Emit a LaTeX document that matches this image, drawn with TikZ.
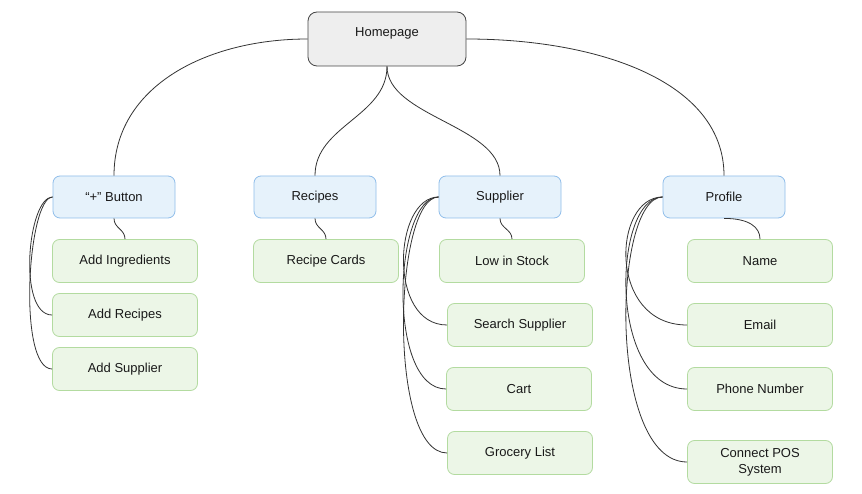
\documentclass[tikz,border=0pt]{standalone}
\usepackage{fontspec}
\setmainfont{Liberation Sans}
\definecolor{homefill}{HTML}{EEEEEE}
\definecolor{homeline}{HTML}{444444}
\definecolor{topicfill}{HTML}{E6F2FB}
\definecolor{topicline}{HTML}{90BEEA}
\definecolor{itemfill}{HTML}{ECF6E7}
\definecolor{itemline}{HTML}{B3DBA0}
\definecolor{linkline}{HTML}{333333}
\tikzset{
  homebox/.style={draw=homeline,fill=homefill,rounded corners=9pt,line width=0.8pt,
    minimum width=158pt,minimum height=54pt,text depth=14pt},
  topicbox/.style={draw=topicline,fill=topicfill,rounded corners=7pt,line width=0.8pt,
    minimum width=122pt,minimum height=42pt},
  itembox/.style={draw=itemline,fill=itemfill,rounded corners=7pt,line width=0.8pt,
    minimum width=145pt,minimum height=43pt,align=center},
  link/.style={draw=linkline,line width=0.8pt}
}
\begin{document}
\begin{tikzpicture}[x=1pt,y=-1pt,font=\fontsize{13}{16}\selectfont,text=black!90]
\useasboundingbox[fill=white] (0,0) rectangle (862,494);
% connectors first, boxes on top
\coordinate (hw) at (308,39);
\coordinate (he) at (466,39);
\coordinate (hs) at (387,66);
% top level
\node[homebox](home) at (387,39){Homepage};
\node[topicbox](plus) at (114,197){``+'' Button};
\node[topicbox](recipes) at (315,197){Recipes};
\node[topicbox](supplier) at (500,197){Supplier};
\node[topicbox](profile) at (724,197){Profile};
% items
\node[itembox](addingr) at (125,261){Add Ingredients};
\node[itembox](addrec) at (125,315){Add Recipes};
\node[itembox](addsupp) at (125,369){Add Supplier};
\node[itembox](cards) at (326,261){Recipe Cards};
\node[itembox](stock) at (512,261){Low in Stock};
\node[itembox](search) at (520,325){Search Supplier};
\node[itembox](cart) at (519,389){Cart};
\node[itembox](grocery) at (520,453){Grocery List};
\node[itembox](name) at (760,261){Name};
\node[itembox](email) at (760,325){Email};
\node[itembox](phone) at (760,389){Phone Number};
\node[itembox](pos) at (760,462){Connect POS\\System};
% homepage links
\path[link](home.west)..controls +(-100,0) and +(0,-90)..(plus.north);
\path[link](home.south)..controls +(0,50) and +(0,-50)..(recipes.north);
\path[link](home.south)..controls +(0,50) and +(0,-50)..(supplier.north);
\path[link](home.east)..controls +(130,0) and +(0,-95)..(profile.north);
% first child from below
\path[link](plus.south)..controls +(0,10) and +(0,-10)..(addingr.north);
\path[link](recipes.south)..controls +(0,10) and +(0,-10)..(cards.north);
\path[link](supplier.south)..controls +(0,10) and +(0,-10)..(stock.north);
\path[link](profile.south)..controls +(25,0) and +(0,-12)..(name.north);
% the others from the left
\foreach \c in {addrec,addsupp}
  \path[link](plus.west)..controls +(-25,0) and +(-35,0)..(\c.west);
\foreach \c in {search,cart,grocery}
  \path[link](supplier.west)..controls +(-45,0) and +(-60,0)..(\c.west);
\foreach \c in {email,phone,pos}
  \path[link](profile.west)..controls +(-50,0) and +(-80,0)..(\c.west);
\end{tikzpicture}
\end{document}
